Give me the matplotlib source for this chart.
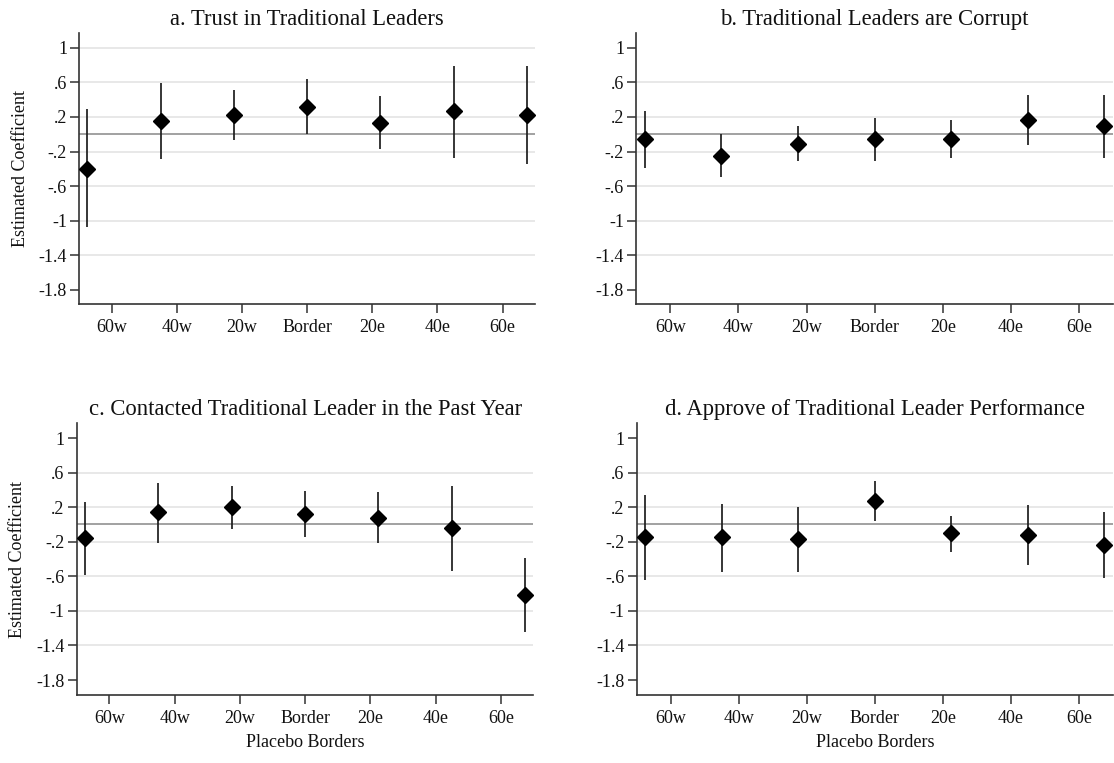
import numpy as np
import matplotlib
matplotlib.use("Agg")
import matplotlib.pyplot as plt

plt.rcParams["font.family"] = ["Liberation Serif", "DejaVu Serif"]

# placebo border positions (km), points sit on their own grid, ticks on another
positions = [-67.5, -45, -22.5, 0, 22.5, 45, 67.5]
tick_pos = [-60, -40, -20, 0, 20, 40, 60]
tick_labels = ["60w", "40w", "20w", "Border", "20e", "40e", "60e"]
ytick_vals = [1, 0.6, 0.2, -0.2, -0.6, -1, -1.4, -1.8]
ytick_labels = ["1", ".6", ".2", "-.2", "-.6", "-1", "-1.4", "-1.8"]

titles = ["a. Trust in Traditional Leaders",
          "b. Traditional Leaders are Corrupt",
          "c. Contacted Traditional Leader in the Past Year",
          "d. Approve of Traditional Leader Performance"]

coef_a = [-0.40, 0.15, 0.22, 0.32, 0.13, 0.27, 0.22]
lo_a = [-1.08, -0.29, -0.07, 0.00, -0.17, -0.27, -0.34]
hi_a = [0.29, 0.59, 0.51, 0.64, 0.44, 0.79, 0.79]

coef_b = [-0.06, -0.25, -0.11, -0.06, -0.05, 0.16, 0.09]
lo_b = [-0.39, -0.49, -0.31, -0.31, -0.28, -0.13, -0.28]
hi_b = [0.27, 0.00, 0.10, 0.19, 0.17, 0.45, 0.46]

coef_c = [-0.16, 0.14, 0.20, 0.12, 0.08, -0.04, -0.82]
lo_c = [-0.59, -0.21, -0.05, -0.14, -0.22, -0.54, -1.25]
hi_c = [0.26, 0.48, 0.45, 0.39, 0.37, 0.45, -0.39]

coef_d = [-0.15, -0.15, -0.17, 0.27, -0.10, -0.12, -0.24]
lo_d = [-0.64, -0.55, -0.55, 0.04, -0.32, -0.47, -0.62]
hi_d = [0.34, 0.24, 0.20, 0.50, 0.10, 0.22, 0.14]

panels = [(coef_a, lo_a, hi_a), (coef_b, lo_b, hi_b),
          (coef_c, lo_c, hi_c), (coef_d, lo_d, hi_d)]

# axes boxes in figure fractions [left, bottom, width, height]
boxes = [[0.0712, 0.6012, 0.4091, 0.3552],
         [0.5712, 0.6012, 0.4279, 0.3552],
         [0.0689, 0.0895, 0.4099, 0.3557],
         [0.5714, 0.0895, 0.4277, 0.3557]]

fig = plt.figure(figsize=(11.14, 7.63), dpi=100)
txt = "#111111"
axc = "#333333"

for i in range(4):
    coef, lo, hi = panels[i]
    ax = fig.add_axes(boxes[i])

    grid_vals = ytick_vals[1:7] if i > 0 else ytick_vals[:7]
    for g in grid_vals:
        ax.axhline(g, color="#e6e6e6", lw=1.3, zorder=0)
    ax.axhline(0, color="#888888", lw=1.1, zorder=1)

    ax.vlines(positions, lo, hi, color="#1e1e1e", lw=1.25, zorder=2)
    ax.plot(positions, coef, linestyle="none", marker="D", ms=7.7,
            color="black", zorder=3)

    ax.set_xlim(-70, 70)
    ax.set_ylim(-1.97, 1.17)
    ax.set_xticks(tick_pos)
    ax.set_xticklabels(tick_labels)
    ax.set_yticks(ytick_vals)
    ax.set_yticklabels(ytick_labels)

    ax.spines["top"].set_visible(False)
    ax.spines["right"].set_visible(False)
    for s in ["left", "bottom"]:
        ax.spines[s].set_color(axc)
        ax.spines[s].set_linewidth(1.2)
    ax.tick_params(axis="both", direction="out", length=6.3, width=1.1,
                   color=axc, labelsize=13, labelcolor=txt)
    ax.tick_params(axis="y", pad=2.5)
    ax.tick_params(axis="x", pad=4.5)

    ax.set_title(titles[i], fontsize=16.3, color=txt, pad=6)
    if i % 2 == 0:
        ax.set_ylabel("Estimated Coefficient", fontsize=13, color=txt, labelpad=7)
    if i >= 2:
        ax.set_xlabel("Placebo Borders", fontsize=13, color=txt, labelpad=5)

fig.savefig("out.png", dpi=100)
